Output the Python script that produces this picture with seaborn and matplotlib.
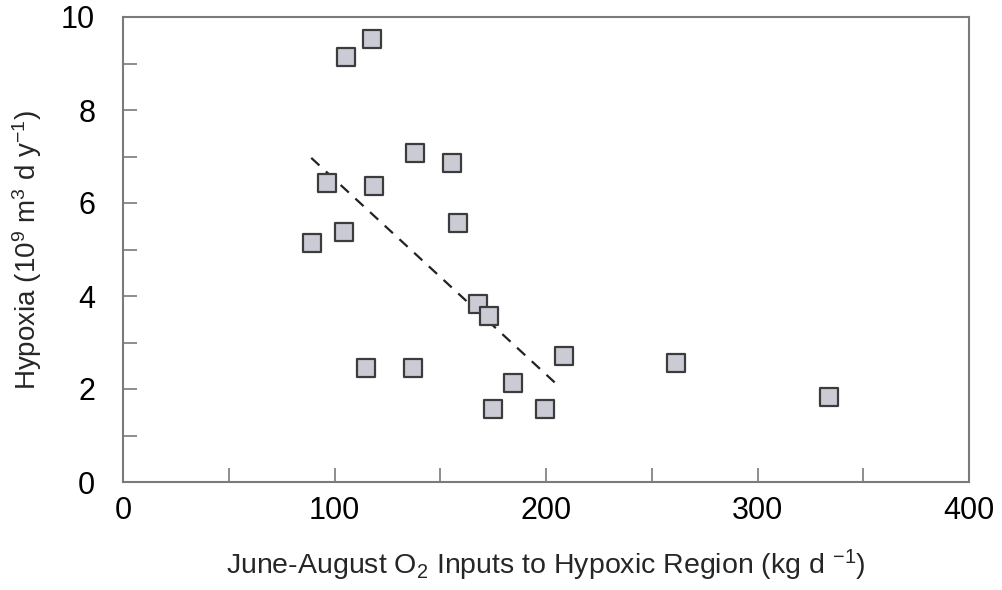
import matplotlib
matplotlib.use("Agg")
import matplotlib.pyplot as plt
import seaborn as sns
import pandas as pd
from matplotlib.ticker import MultipleLocator

# Data
o2_inputs = [105.4, 117.6, 138.1, 155.7, 96.3, 118.7, 158.5, 104.6, 89.2,
             167.8, 173.2, 208.5, 114.9, 137.3, 184.5, 175.1, 199.5, 261.5, 334.0]
hypoxia = [9.14, 9.53, 7.07, 6.87, 6.44, 6.37, 5.56, 5.38, 5.15,
           3.82, 3.56, 2.71, 2.46, 2.46, 2.12, 1.57, 1.57, 2.56, 1.82]
trend_x = [89, 207]
trend_y = [6.97, 2.02]
x_ticks = [0, 100, 200, 300, 400]
y_ticks = [0, 2, 4, 6, 8, 10]

df = pd.DataFrame({"o2": o2_inputs, "hyp": hypoxia})
trend = pd.DataFrame({"x": trend_x, "y": trend_y})

sns.set_style("white")
plt.rcParams["font.family"] = ["Liberation Sans", "DejaVu Sans"]
plt.rcParams["mathtext.fontset"] = "custom"
plt.rcParams["mathtext.rm"] = "Liberation Sans"
plt.rcParams["mathtext.it"] = "Liberation Sans"

fig = plt.figure(figsize=(10.02, 5.90), dpi=100)
ax = fig.add_axes([123/1002, 1-482/590, (969-123)/1002, (482-17)/590])

sns.lineplot(data=trend, x="x", y="y", ax=ax, color="#222222",
             linewidth=1.6, linestyle=(0, (5, 4)), zorder=2)
sns.scatterplot(data=df, x="o2", y="hyp", ax=ax, marker="s", s=150,
                color="#cbcbd6", edgecolor="#3c3c3c", linewidth=1.6, zorder=3)

ax.set_xlim(0, 400)
ax.set_ylim(0, 10)
ax.set_xticks(x_ticks)
ax.set_yticks(y_ticks)
ax.xaxis.set_minor_locator(MultipleLocator(50))
ax.yaxis.set_minor_locator(MultipleLocator(1))
ax.tick_params(axis="both", which="both", direction="in", color="#7a7a7a",
               width=1.2, top=False, right=False, bottom=True, left=True)
ax.tick_params(axis="both", which="major", length=10, labelsize=22, labelcolor="black")
ax.tick_params(axis="both", which="minor", length=10)
ax.tick_params(axis="x", which="major", pad=10)
ax.tick_params(axis="y", which="major", pad=20)

for sp in ax.spines.values():
    sp.set_color("#7a7a7a")
    sp.set_linewidth(1.5)

ax.set_xlabel(r"June-August O$_2$ Inputs to Hypoxic Region (kg d $^{-1}$)",
              fontsize=20.5, labelpad=16)
ax.set_ylabel(r"Hypoxia (10$^9$ m$^3$ d y$^{-1}$)", fontsize=20, labelpad=12)

fig.savefig("out.png", dpi=100)
